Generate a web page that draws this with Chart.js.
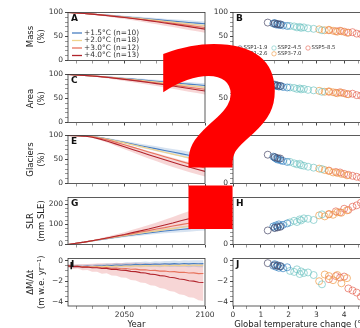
<!DOCTYPE html>
<html>
<head>
<meta charset="utf-8">
<title>Glacier change</title>
<script src="https://cdn.jsdelivr.net/npm/chart.js@4.4.1/dist/chart.umd.min.js"></script>
<style>
  html, body { margin: 0; padding: 0; background: #fff; }
  body { position: relative; width: 360px; height: 328px; overflow: hidden; }
  canvas { position: absolute; }
  #qmark { position: absolute; left: 146px; top: 18px; font: bold 250px/250px "DejaVu Sans", sans-serif; color: #ff0000; pointer-events: none; }
</style>
</head>
<body>
<canvas id="pA"></canvas><canvas id="pC"></canvas><canvas id="pE"></canvas><canvas id="pG"></canvas><canvas id="pI"></canvas>
<canvas id="pB"></canvas><canvas id="pD"></canvas><canvas id="pF"></canvas><canvas id="pH"></canvas><canvas id="pJ"></canvas>
<div id="qmark">?</div>
<script>
// ===== data: time series (left column) =====
const years = [2015,2020,2025,2030,2035,2040,2045,2050,2055,2060,2065,2070,2075,2080,2085,2090,2095,2100];
const scenLabels = ['+1.5°C (n=10)', '+2.0°C (n=18)', '+3.0°C (n=12)', '+4.0°C (n=13)'];

const massLines = [
  [100,99.0,97.9,96.7,95.4,94.0,92.6,91.1,89.6,88.1,86.6,85.1,83.6,82.1,80.6,79.2,77.8,76.5],
  [100,99.0,97.9,96.7,95.3,93.8,92.2,90.6,88.9,87.2,85.4,83.6,81.8,80.0,78.2,76.4,74.6,72.8],
  [100,99.0,97.9,96.6,95.1,93.5,91.8,90.0,88.1,86.1,84.0,81.9,79.7,77.5,75.3,73.1,70.9,68.7],
  [100,99.0,97.9,96.6,95.0,93.3,91.5,89.6,87.5,85.3,83.0,80.6,78.2,75.7,73.2,70.6,68.0,65.4]
];
const massSpread15 = [0,0.3,0.6,1.0,1.3,1.6,1.9,2.2,2.5,2.8,3.1,3.4,3.6,3.9,4.1,4.4,4.6,4.8];
const massSpread40 = [0,0.4,0.8,1.3,1.8,2.3,2.8,3.3,3.8,4.3,4.8,5.3,5.7,6.1,6.5,6.9,7.2,7.5];

const areaLines = [
  [100,99.2,98.2,97.1,95.9,94.6,93.2,91.8,90.3,88.8,87.3,85.8,84.3,82.8,81.3,79.9,78.5,77.2],
  [100,99.2,98.2,97.1,95.8,94.4,92.9,91.3,89.6,87.9,86.1,84.3,82.5,80.7,78.9,77.1,75.3,73.5],
  [100,99.2,98.2,97.0,95.6,94.0,92.3,90.5,88.6,86.6,84.5,82.4,80.2,78.0,75.8,73.6,71.4,69.2],
  [100,99.2,98.2,97.0,95.5,93.8,91.9,89.9,87.8,85.6,83.3,80.9,78.5,76.0,73.5,70.9,68.3,65.7]
];
const areaSpread15 = [0,0.3,0.6,0.9,1.2,1.5,1.8,2.1,2.4,2.7,3.0,3.3,3.5,3.8,4.0,4.3,4.5,4.7];
const areaSpread40 = [0,0.4,0.8,1.2,1.7,2.2,2.7,3.2,3.7,4.2,4.7,5.1,5.5,5.9,6.3,6.7,7.0,7.3];

const glacLines = [
  [100,99.8,99.2,97.9,95.6,92.6,89.2,85.7,82.2,78.8,75.5,72.2,68.9,65.6,62.3,59.0,55.7,52.5],
  [100,99.8,99.2,97.8,95.4,92.2,88.5,84.6,80.7,76.8,72.9,69.0,65.1,61.2,57.3,53.4,49.6,45.8],
  [100,99.8,99.0,97.3,94.3,90.3,85.7,80.8,75.8,70.8,65.8,60.8,55.8,50.9,46.1,41.4,36.8,32.4],
  [100,99.7,98.8,96.5,92.5,87.5,82.0,76.5,71.0,65.5,60.0,54.6,49.3,44.2,39.2,34.4,29.7,25.2]
];
const glacSpread15 = [0,0.1,0.3,0.7,1.2,1.8,2.4,3.0,3.6,4.2,4.8,5.3,5.8,6.3,6.8,7.2,7.6,8.0];
const glacSpread40 = [0,0.2,0.6,1.3,2.2,3.2,4.2,5.2,6.1,7.0,7.8,8.5,9.1,9.6,10.0,10.3,10.6,10.8];

const slrLines = [
  [0,6,12,18,24,30,36,42,47,52,57,62,67,71,75,79,83,87],
  [0,6,12,18,25,31,38,44,50,56,62,68,74,79,85,90,95,100],
  [0,6,12,19,26,33,40,47,54,62,69,77,84,92,99,106,113,120],
  [0,6,12,19,26,34,42,50,59,68,77,87,97,107,118,128,139,150]
];
const slrSpread15 = [0,1,1,2,3,4,5,6,7,8,9,10,11,12,14,15,16,17];
const slrSpread40 = [0,1,2,3,5,7,9,11,14,17,20,23,26,30,34,38,42,46];

const rateYears = [2015,2018,2021,2024,2027,2030,2033,2036,2039,2042,2045,2048,2051,2054,2057,2060,2063,2066,2069,2072,2075,2078,2081,2084,2087,2090,2093,2096,2099];
const rateLines = [
  [-0.5,-0.56,-0.52,-0.58,-0.54,-0.57,-0.5,-0.53,-0.46,-0.49,-0.43,-0.46,-0.4,-0.43,-0.37,-0.4,-0.35,-0.38,-0.33,-0.36,-0.31,-0.34,-0.3,-0.33,-0.29,-0.32,-0.28,-0.31,-0.3],
  [-0.5,-0.57,-0.54,-0.6,-0.57,-0.61,-0.56,-0.6,-0.54,-0.58,-0.53,-0.57,-0.52,-0.56,-0.5,-0.54,-0.49,-0.53,-0.48,-0.52,-0.47,-0.5,-0.45,-0.49,-0.44,-0.48,-0.43,-0.47,-0.45],
  [-0.51,-0.58,-0.55,-0.62,-0.6,-0.66,-0.63,-0.69,-0.67,-0.74,-0.72,-0.79,-0.77,-0.84,-0.83,-0.9,-0.89,-0.96,-0.95,-1.02,-1.01,-1.08,-1.07,-1.14,-1.13,-1.2,-1.19,-1.26,-1.25],
  [-0.51,-0.59,-0.56,-0.64,-0.62,-0.7,-0.69,-0.77,-0.76,-0.85,-0.85,-0.94,-0.95,-1.05,-1.07,-1.17,-1.2,-1.31,-1.35,-1.46,-1.5,-1.62,-1.67,-1.79,-1.84,-1.95,-1.99,-2.1,-2.12]
];
const rateSpread15 = [0.12,0.14,0.15,0.17,0.16,0.18,0.19,0.2,0.19,0.21,0.22,0.21,0.23,0.24,0.23,0.25,0.26,0.25,0.27,0.28,0.27,0.29,0.3,0.29,0.31,0.32,0.31,0.33,0.34];
const rateSpread40 = [0.15,0.22,0.2,0.3,0.29,0.38,0.4,0.5,0.48,0.6,0.62,0.7,0.72,0.83,0.85,0.95,0.97,1.08,1.1,1.2,1.22,1.33,1.35,1.46,1.5,1.6,1.62,1.74,1.8];
const obsYears = [2017, 2017];
const obsRate = [-0.15, -0.85];

// ===== data: temperature scatter (right column) =====
const sspLabels = ['SSP1-1.9', 'SSP1-2.6', 'SSP2-4.5', 'SSP3-7.0', 'SSP5-8.5'];
const sspTemp = [
  [1.25, 1.5, 1.6, 1.7],
  [1.45, 1.5, 1.55, 1.6, 1.65, 1.72, 1.8, 1.95],
  [2.05, 2.2, 2.3, 2.4, 2.45, 2.55, 2.7, 2.9, 3.2],
  [3.1, 3.3, 3.45, 3.6, 3.75, 3.9, 4.1],
  [3.45, 3.7, 3.85, 4.0, 4.15, 4.3, 4.45, 4.6, 4.8]
];
const sspMass = [
  [79, 77, 76, 75],
  [77, 78, 75, 76, 74, 75, 73, 72],
  [72, 71, 69, 70, 68, 69, 67, 66, 63],
  [65, 63, 64, 62, 60, 61, 58],
  [63, 61, 62, 60, 58, 59, 56, 55, 53]
];
const sspArea = [
  [80, 78, 77, 76],
  [78, 79, 76, 77, 75, 76, 74, 73],
  [73, 72, 70, 71, 69, 70, 68, 67, 64],
  [66, 64, 65, 63, 61, 62, 59],
  [64, 62, 63, 61, 59, 60, 57, 56, 54]
];
const sspGlac = [
  [60, 55, 53, 52],
  [56, 54, 52, 50, 51, 48, 47, 45],
  [45, 42, 40, 41, 38, 37, 35, 33, 30],
  [31, 28, 26, 23, 22, 20, 17],
  [27, 24, 23, 20, 18, 16, 14, 12, 10]
];
const sspSlr = [
  [70, 82, 85, 88],
  [90, 84, 95, 88, 100, 92, 98, 105],
  [110, 118, 112, 125, 120, 130, 128, 122, 150],
  [145, 140, 152, 148, 160, 158, 170],
  [150, 165, 160, 178, 172, 188, 195, 208, 218]
];
const sspRate = [
  [-0.25, -0.45, -0.5, -0.55],
  [-0.5, -0.35, -0.6, -0.45, -0.7, -0.55, -0.75, -0.65],
  [-1.0, -1.1, -0.85, -1.3, -1.05, -1.2, -1.15, -1.4, -2.3],
  [-2.0, -1.35, -1.5, -1.9, -1.4, -2.2, -1.7],
  [-1.8, -1.5, -1.65, -1.55, -2.7, -2.9, -3.1, -3.5, -3.7]
];

// tick labels
const yearTicks = [2050, 2100];
const tempTicks = [0, 1, 2, 3, 4, 5];
const pctTicks = [0, 50, 100];
const slrTicks = [0, 100, 200];
const rateTicks = [-4, -2, 0];

// ===== style =====
Chart.defaults.font.family = '"DejaVu Sans", sans-serif';
Chart.defaults.font.size = 7.5;
Chart.defaults.color = '#333';
Chart.defaults.animation = false;

const lineColors = ['#4a7fc1', '#f0d38c', '#e7735d', '#b1242c'];
const bandColors = ['rgba(74,127,193,0.22)', 'rgba(225,90,90,0.25)'];
const sspColors = ['rgba(75,75,106,0.8)', 'rgba(44,124,189,0.75)', 'rgba(110,196,194,0.75)', 'rgba(240,155,70,0.8)', 'rgba(228,96,77,0.75)'];

const fmtNum = v => (v < 0 ? '\u2212' + Math.abs(v) : String(v));

// panel frame, letter, y title and in-panel legends
Chart.register({
  id: 'frame',
  afterDraw(chart, args, o) {
    const {ctx, chartArea: a} = chart;
    ctx.save();
    ctx.strokeStyle = '#333';
    ctx.lineWidth = 0.8;
    ctx.strokeRect(a.left, a.top, a.right - a.left, a.bottom - a.top);
    ctx.fillStyle = '#111';
    ctx.font = 'bold 9px "DejaVu Sans"';
    ctx.textBaseline = 'top';
    ctx.textAlign = 'left';
    ctx.fillText(o.letter, a.left + 3, a.top + 2);

    if (o.ytitle) {
      ctx.save();
      ctx.translate(a.left - 37, (a.top + a.bottom) / 2);
      ctx.rotate(-Math.PI / 2);
      ctx.textAlign = 'center';
      ctx.textBaseline = 'middle';
      ctx.font = '8.5px "DejaVu Sans"';
      ctx.fillStyle = '#222';
      o.ytitle.forEach((t, i) => ctx.fillText(t, 0, i * 10.5));
      ctx.restore();
    }

    if (o.legend) {
      ctx.font = '7.4px "DejaVu Sans"';
      ctx.textBaseline = 'middle';
      o.legend.forEach((it, i) => {
        const y = a.top + 20.5 + i * 7.5;
        ctx.strokeStyle = it.color;
        ctx.lineWidth = 1.3;
        ctx.beginPath();
        ctx.moveTo(a.left + 4, y);
        ctx.lineTo(a.left + 14, y);
        ctx.stroke();
        ctx.fillStyle = '#333';
        ctx.fillText(it.text, a.left + 16, y);
      });
    }

    if (o.dots) {
      ctx.font = '5.4px "DejaVu Sans"';
      ctx.textBaseline = 'middle';
      o.dots.forEach((it, k) => {
        const x = a.left + 7 + Math.floor(k / 2) * 34;
        const y = a.top + 35.5 + (k % 2) * 5.8;
        ctx.strokeStyle = it.color;
        ctx.lineWidth = 0.8;
        ctx.beginPath();
        ctx.arc(x, y, 2.2, 0, Math.PI * 2);
        ctx.stroke();
        ctx.fillStyle = '#333';
        ctx.fillText(it.text, x + 3.5, y);
      });
    }
    ctx.restore();
  }
});

function axis(min, max, step, labels, show, title) {
  return {
    type: 'linear', min, max,
    afterBuildTicks: s => {
      const t = [];
      for (let v = Math.ceil(min / step - 1e-9) * step; v <= max + 1e-9; v += step) t.push({value: +v.toFixed(3)});
      s.ticks = t;
    },
    grid: {
      drawOnChartArea: false, tickLength: 3, color: '#333',
      tickWidth: c => (c.tick && labels.includes(c.tick.value)) ? 0.9 : 0.5
    },
    border: {display: false},
    ticks: {
      autoSkip: false, maxRotation: 0, padding: 2,
      callback: v => (show && labels.includes(v)) ? fmtNum(v) : ''
    },
    title: title ? {display: true, text: title, font: {size: 8.5}, color: '#222', padding: 0} : {display: false}
  };
}

const rows = [12, 74, 135, 197, 258];
const hts = [49, 49, 49, 48, 48];

function panel(id, left, width, padRight, r, type, datasets, xAx, yAx, yWidth, frameOpts) {
  const cv = document.getElementById(id);
  const bottom = r === 4;
  const padTop = 6, padBottom = bottom ? 0 : 2, xh = bottom ? 24 : 4;
  cv.width = width;
  cv.height = padTop + hts[r] + xh + padBottom;
  cv.style.left = left + 'px';
  cv.style.top = (rows[r] - padTop) + 'px';
  xAx.afterFit = s => { s.height = xh; };
  yAx.afterFit = s => { s.width = yWidth; };
  return new Chart(cv, {
    type,
    data: {datasets},
    options: {
      responsive: false, events: [],
      layout: {padding: {top: padTop, right: padRight, bottom: padBottom, left: 0}},
      plugins: {legend: {display: false}, tooltip: {enabled: false}, frame: frameOpts},
      scales: {x: xAx, y: yAx}
    }
  });
}

function trendSets(xs, lines, sp15, sp40) {
  const pts = arr => arr.map((v, i) => ({x: xs[i], y: v}));
  const ds = lines.map((arr, k) => ({
    data: pts(arr), borderColor: lineColors[k], borderWidth: 1.1,
    pointRadius: 0, fill: false, order: 4 - k
  }));
  const band = (arr, sp, col) => [
    {data: arr.map((v, i) => ({x: xs[i], y: v + sp[i]})), borderWidth: 0, pointRadius: 0, fill: '+1', backgroundColor: col, order: 10},
    {data: arr.map((v, i) => ({x: xs[i], y: v - sp[i]})), borderWidth: 0, pointRadius: 0, fill: false, order: 10}
  ];
  return ds.concat(band(lines[0], sp15, bandColors[0]), band(lines[3], sp40, bandColors[1]));
}

function leftPanel(id, r, xs, lines, sp15, sp40, yMin, yMax, yStep, yLabels, letter, ytitle, extra) {
  const bottom = r === 4;
  const ds = trendSets(xs, lines, sp15, sp40).concat(extra || []);
  panel(id, 0, 219, 14, r, 'line', ds,
    axis(2015, 2100, 10, yearTicks, bottom, bottom ? 'Year' : null),
    axis(yMin, yMax, yStep, yLabels, true, null), 68,
    {letter, ytitle, legend: r === 0 ? scenLabels.map((t, k) => ({text: t, color: lineColors[k]})) : null});
}

function rightPanel(id, r, vals, yMin, yMax, yStep, yLabels, letter) {
  const bottom = r === 4;
  const ds = sspTemp.map((ts, k) => ({
    label: sspLabels[k],
    data: ts.map((t, i) => ({x: t, y: vals[k][i]})),
    borderColor: sspColors[k], pointBorderColor: sspColors[k],
    backgroundColor: 'rgba(0,0,0,0)', pointBackgroundColor: 'rgba(0,0,0,0)',
    pointRadius: 3.5, borderWidth: 0.9, pointBorderWidth: 0.9, showLine: false
  }));
  panel(id, 205, 173, 6, r, 'scatter', ds,
    axis(0, 5, 0.5, tempTicks, bottom, bottom ? 'Global temperature change (°C)' : null),
    axis(yMin, yMax, yStep, yLabels, true, null), 28,
    {letter, dots: r === 0 ? sspLabels.map((t, k) => ({text: t, color: sspColors[k]})) : null});
}

const obsSet = {
  data: obsYears.map((y, i) => ({x: y, y: obsRate[i]})),
  borderColor: '#111', borderWidth: 1.5, pointRadius: 0, fill: false, order: 0
};

leftPanel('pA', 0, years, massLines, massSpread15, massSpread40, 0, 100, 10, pctTicks, 'A', ['Mass', '(%)']);
leftPanel('pC', 1, years, areaLines, areaSpread15, areaSpread40, 0, 100, 10, pctTicks, 'C', ['Area', '(%)']);
leftPanel('pE', 2, years, glacLines, glacSpread15, glacSpread40, 0, 100, 10, pctTicks, 'E', ['Glaciers', '(%)']);
leftPanel('pG', 3, years, slrLines, slrSpread15, slrSpread40, 0, 234, 20, slrTicks, 'G', ['SLR', '(mm SLE)']);
leftPanel('pI', 4, rateYears, rateLines, rateSpread15, rateSpread40, -4.4, 0.2, 0.5, rateTicks, 'I', ['\u0394M/\u0394t', '(m w.e. yr\u207B\u00B9)'], [obsSet]);

rightPanel('pB', 0, sspMass, 0, 100, 10, pctTicks, 'B');
rightPanel('pD', 1, sspArea, 0, 100, 10, pctTicks, 'D');
rightPanel('pF', 2, sspGlac, 0, 100, 10, pctTicks, 'F');
rightPanel('pH', 3, sspSlr, 0, 234, 20, slrTicks, 'H');
rightPanel('pJ', 4, sspRate, -4.4, 0.2, 0.5, rateTicks, 'J');
</script>
</body>
</html>
